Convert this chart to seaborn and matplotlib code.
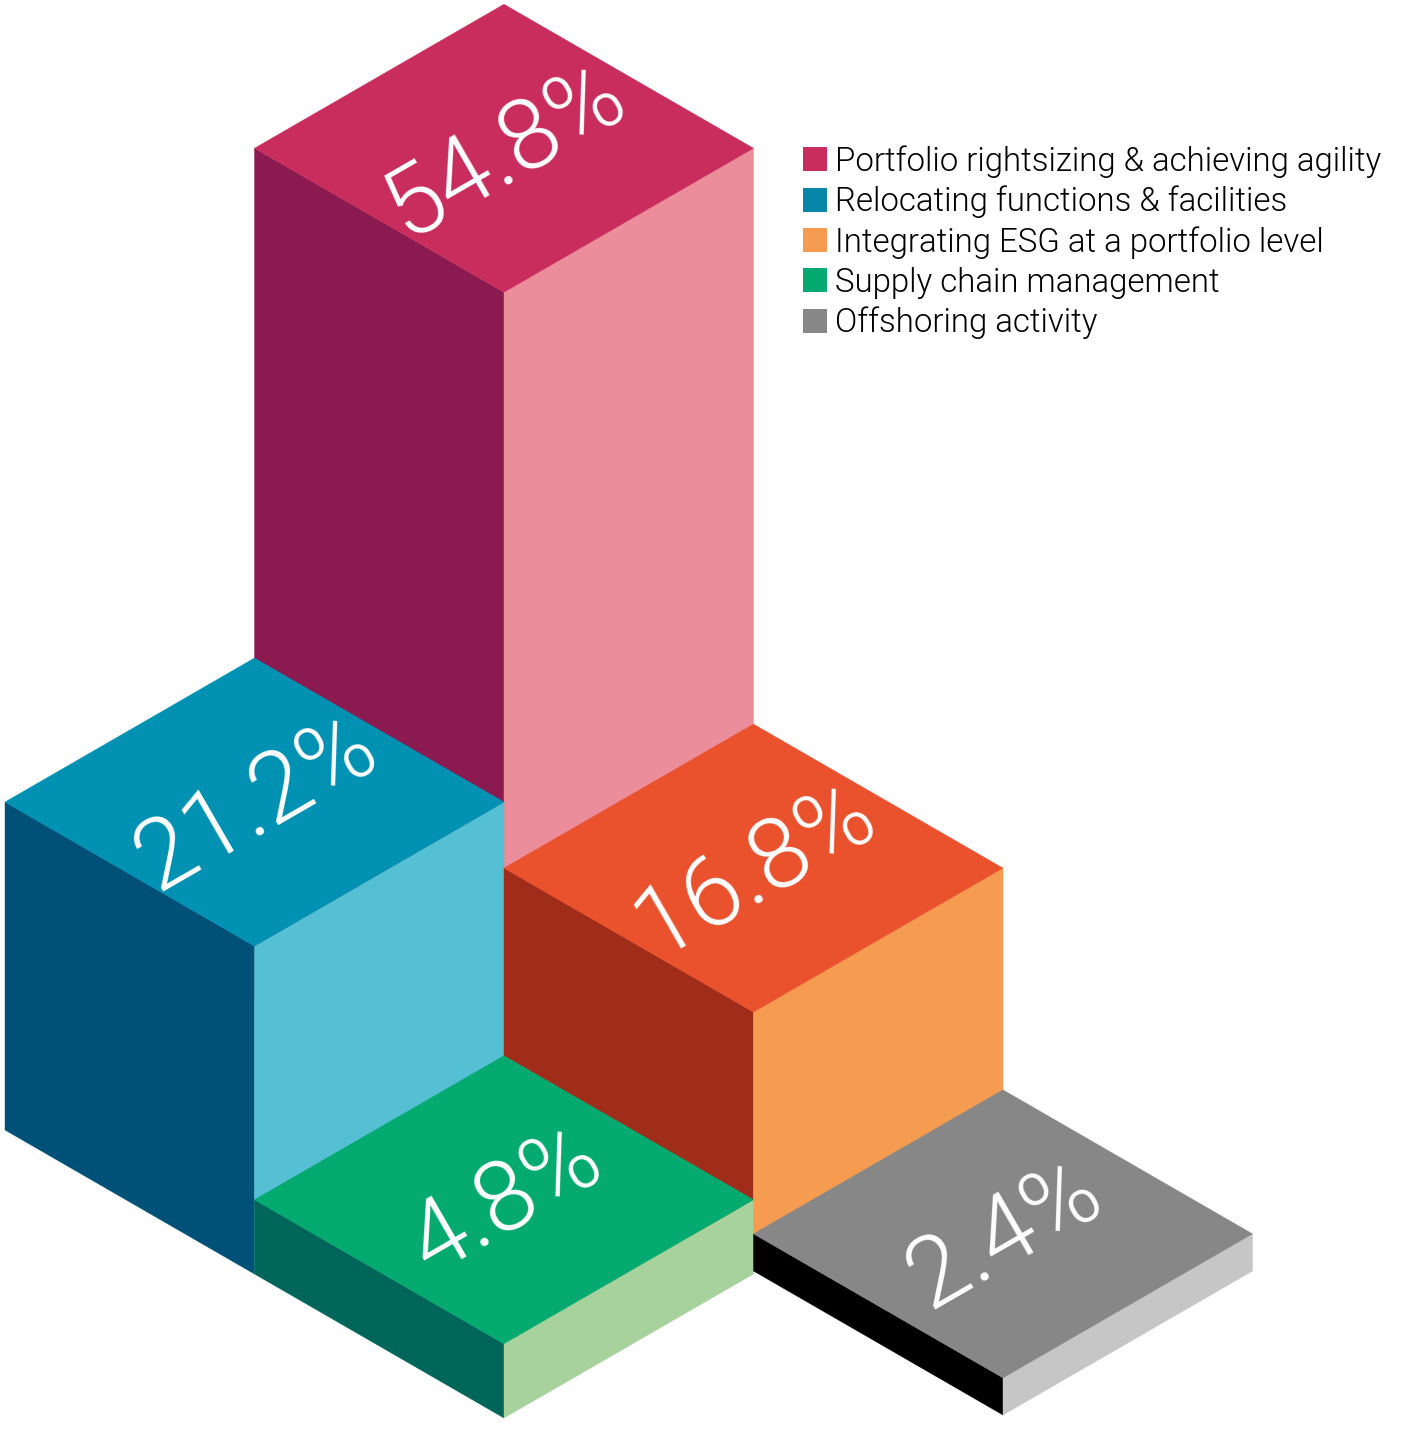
import seaborn as sns
import matplotlib.pyplot as plt
from matplotlib.patches import Polygon, Patch

categories = ['Portfolio rightsizing & achieving agility', 'Relocating functions & facilities',
              'Integrating ESG at a portfolio level', 'Supply chain management', 'Offshoring activity']
values = [54.8, 21.2, 16.8, 4.8, 2.4]
top_colors = ['#C92D5D', '#0091B3', '#EA522E', '#04AA6F', '#878787']
left_colors = ['#8A1A4F', '#015078', '#A02D1A', '#006659', '#000000']
right_colors = ['#EC8D9C', '#55BFD3', '#F69C50', '#A8D29C', '#C6C6C6']
legend_colors = ['#C92D5D', '#0786A8', '#F69C50', '#04AA6F', '#878787']
# grid cell of each block, along the two isometric directions
cell_u = [0, 0, 1, 1, 2]
cell_v = [0, 1, 0, 1, 0]
# small vertical nudge of each base in pixels, the artwork is not quite to scale
base_shift = [10, 0, -2, 0, -3]

HALF_W = 249.5
HALF_H = 144.0
PX_PER_PCT = 15.47
ORIGIN_X = 504
ORIGIN_Y = 986


def project(u, v, h=0, shift=0):
    return (ORIGIN_X + HALF_W * (u - v), ORIGIN_Y + shift + HALF_H * (u + v) - h * PX_PER_PCT)


sns.set_theme(style='white')
plt.rcParams['font.family'] = ['Roboto', 'DejaVu Sans']

fig, ax = plt.subplots(figsize=(14.17, 14.29), dpi=100)
ax.set_position([0, 0, 1, 1])
ax.set_xlim(0, 1417)
ax.set_ylim(1429, 0)
ax.axis('off')

for i in range(len(values)):
    u, v, h, s = cell_u[i], cell_v[i], values[i], base_shift[i]
    # corners of the unit tile around the cell centre: back, right, front, left
    back, right = (u - 0.5, v - 0.5), (u + 0.5, v - 0.5)
    front, left = (u + 0.5, v + 0.5), (u - 0.5, v + 0.5)
    ax.add_patch(Polygon([project(*left, h, s), project(*front, h, s), project(*front, 0, s), project(*left, 0, s)],
                         closed=True, fc=left_colors[i], ec=left_colors[i], lw=0.3))
    ax.add_patch(Polygon([project(*front, h, s), project(*right, h, s), project(*right, 0, s), project(*front, 0, s)],
                         closed=True, fc=right_colors[i], ec=right_colors[i], lw=0.3))
    ax.add_patch(Polygon([project(*back, h, s), project(*right, h, s), project(*front, h, s), project(*left, h, s)],
                         closed=True, fc=top_colors[i], ec=top_colors[i], lw=0.3))
    cx, cy = project(u, v, h, s)
    ax.text(cx + 2, cy + 2, f'{h}%', color='white', fontsize=71, fontweight=300, rotation=30,
            rotation_mode='anchor', ha='center', va='center')

handles = [Patch(fc=c, ec='none') for c in legend_colors]
ax.legend(handles, categories, loc='upper left', bbox_to_anchor=(803 / 1417, 1 - 145 / 1429),
          frameon=False, handlelength=0.73, handleheight=0.73, handletextpad=0.24,
          labelspacing=0.24, borderpad=0, borderaxespad=0, labelcolor='black',
          prop={'size': 23.8, 'weight': 300})
sns.despine(ax=ax, left=True, bottom=True)
fig.savefig('out.png', dpi=100)
